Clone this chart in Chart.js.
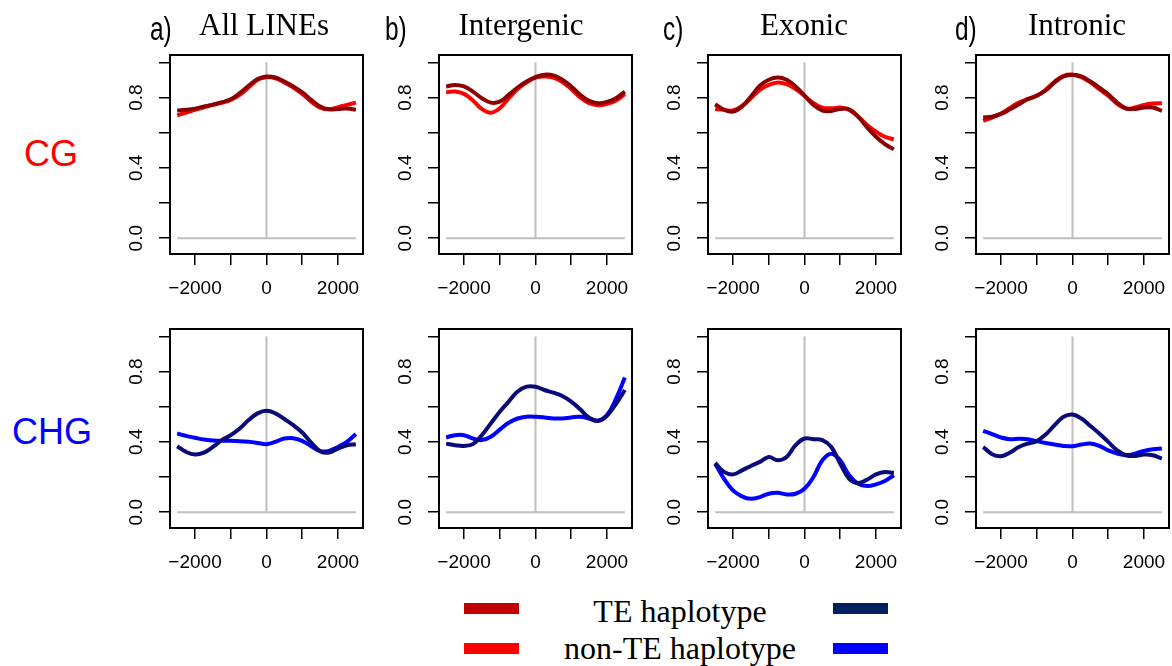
<!DOCTYPE html>
<html>
<head>
<meta charset="utf-8">
<script src="https://cdn.jsdelivr.net/npm/chart.js@4.4.1/dist/chart.umd.min.js"></script>
<style>
  html, body { margin: 0; padding: 0; background: #fff; }
  #page { position: relative; width: 1172px; height: 666px; overflow: hidden; background: #fff; }
  #page canvas { position: absolute; }
  .t { position: absolute; white-space: nowrap; line-height: 1; color: #000; }
  .serif { font-family: 'Liberation Serif', 'Times New Roman', serif; }
  .sans { font-family: 'Liberation Sans', Arial, sans-serif; }
  .bar { position: absolute; width: 55px; height: 11px; }
</style>
</head>
<body>
<div id="page"></div>
<script>
// Positions (bp relative to the element) at which methylation is sampled
const positions = [-2500, -2250, -2000, -1750, -1500, -1250, -1000, -750, -500, -250,
                   0, 250, 500, 750, 1000, 1250, 1500, 1750, 2000, 2250, 2500];

// Axis ticks
const xTicks = [-2000, -1000, 0, 1000, 2000];
const xTickLabels = ['\u22122000', '', '0', '', '2000'];
const yTicks = [0, 0.2, 0.4, 0.6, 0.8, 1.0];
const yTickLabels = ['0.0', '', '0.4', '', '0.8', ''];

// Panel titles
const panelLetters = ['a)', 'b)', 'c)', 'd)'];
const panelTitles = ['All LINEs', 'Intergenic', 'Exonic', 'Intronic'];
const contexts = ['CG', 'CHG'];
const legendLabels = ['TE haplotype', 'non-TE haplotype'];

// CG methylation
const cgTE_all = [0.726, 0.730, 0.737, 0.749, 0.760, 0.773, 0.790, 0.825, 0.867, 0.905,
                  0.920, 0.914, 0.891, 0.863, 0.830, 0.787, 0.749, 0.733, 0.735, 0.737, 0.730];
const cgNon_all = [0.699, 0.714, 0.730, 0.745, 0.758, 0.771, 0.787, 0.815, 0.857, 0.901,
                   0.916, 0.909, 0.886, 0.857, 0.821, 0.777, 0.743, 0.733, 0.745, 0.758, 0.771];
const cgTE_intergenic = [0.863, 0.872, 0.863, 0.834, 0.796, 0.771, 0.777, 0.815, 0.857, 0.891,
                         0.916, 0.930, 0.926, 0.901, 0.863, 0.815, 0.781, 0.768, 0.775, 0.796, 0.834];
const cgNon_intergenic = [0.830, 0.834, 0.821, 0.783, 0.735, 0.714, 0.739, 0.796, 0.848, 0.886,
                          0.914, 0.920, 0.914, 0.888, 0.848, 0.800, 0.768, 0.756, 0.764, 0.783, 0.819];
const cgTE_exonic = [0.762, 0.730, 0.720, 0.749, 0.806, 0.867, 0.901, 0.914, 0.901, 0.863,
                     0.811, 0.758, 0.726, 0.724, 0.735, 0.733, 0.691, 0.630, 0.577, 0.535, 0.505];
const cgNon_exonic = [0.735, 0.730, 0.726, 0.752, 0.796, 0.844, 0.872, 0.886, 0.876, 0.848,
                      0.810, 0.768, 0.743, 0.739, 0.743, 0.730, 0.691, 0.644, 0.606, 0.577, 0.562];
const cgTE_intronic = [0.686, 0.691, 0.707, 0.733, 0.762, 0.790, 0.810, 0.840, 0.886, 0.920,
                       0.930, 0.920, 0.891, 0.857, 0.819, 0.771, 0.739, 0.735, 0.743, 0.743, 0.724];
const cgNon_intronic = [0.667, 0.686, 0.709, 0.741, 0.771, 0.792, 0.810, 0.844, 0.891, 0.924,
                        0.930, 0.916, 0.886, 0.848, 0.810, 0.764, 0.737, 0.743, 0.758, 0.766, 0.768];

// CHG methylation
const chgTE_all = [0.375, 0.343, 0.328, 0.339, 0.371, 0.410, 0.438, 0.476, 0.524, 0.562,
                   0.577, 0.562, 0.530, 0.495, 0.453, 0.396, 0.347, 0.339, 0.362, 0.381, 0.387];
const chgNon_all = [0.448, 0.434, 0.423, 0.413, 0.408, 0.406, 0.406, 0.404, 0.400, 0.394,
                    0.387, 0.400, 0.419, 0.421, 0.406, 0.375, 0.347, 0.349, 0.371, 0.400, 0.444];
const chgTE_intergenic = [0.390, 0.381, 0.377, 0.387, 0.438, 0.505, 0.571, 0.629, 0.686, 0.714,
                          0.714, 0.695, 0.680, 0.661, 0.629, 0.585, 0.537, 0.520, 0.549, 0.615, 0.695];
const chgNon_intergenic = [0.425, 0.438, 0.438, 0.419, 0.410, 0.429, 0.470, 0.509, 0.533, 0.543,
                           0.543, 0.539, 0.533, 0.533, 0.539, 0.543, 0.533, 0.520, 0.552, 0.644, 0.766];
const chgTE_exonic = [0.280, 0.229, 0.215, 0.238, 0.263, 0.286, 0.314, 0.295, 0.314, 0.381,
                      0.419, 0.415, 0.410, 0.371, 0.276, 0.190, 0.166, 0.185, 0.215, 0.229, 0.223];
const chgNon_exonic = [0.276, 0.190, 0.124, 0.090, 0.076, 0.086, 0.105, 0.110, 0.101, 0.105,
                       0.133, 0.200, 0.295, 0.333, 0.295, 0.210, 0.162, 0.149, 0.158, 0.177, 0.210];
const chgTE_intronic = [0.371, 0.330, 0.318, 0.339, 0.371, 0.390, 0.404, 0.442, 0.495, 0.543,
                        0.556, 0.533, 0.490, 0.448, 0.400, 0.352, 0.324, 0.320, 0.328, 0.324, 0.305];
const chgNon_intronic = [0.463, 0.444, 0.425, 0.415, 0.417, 0.415, 0.404, 0.394, 0.385, 0.377,
                         0.375, 0.385, 0.390, 0.377, 0.352, 0.333, 0.324, 0.333, 0.349, 0.358, 0.362];

// Colours
const colCG = { te: '#8B0000', non: '#FF0000', teKey: '#C00000', nonKey: '#FF0000', label: '#FF0000' };
const colCHG = { te: '#0A0A78', non: '#0000FF', teKey: '#002060', nonKey: '#0000FF', label: '#0000FF' };

// Layout of the plot boxes
const boxLeft = [170, 439, 708, 976];
const boxTop = [55, 329];
const boxW = 193, boxH = 199;
const PADL = 60, PADT = 12, PADR = 12, PADB = 60;
const SANS = "'Liberation Sans', Arial, sans-serif";

const page = document.getElementById('page');

// Draws the frame around the plot region and the rotated y labels
const framePlugin = {
  id: 'frame',
  afterDraw(chart) {
    const { ctx, chartArea: a, scales } = chart;
    ctx.save();
    ctx.strokeStyle = '#000';
    ctx.lineWidth = 2;
    ctx.strokeRect(a.left, a.top, a.right - a.left, a.bottom - a.top);
    ctx.fillStyle = '#000';
    ctx.font = '19px ' + SANS;
    ctx.textAlign = 'center';
    ctx.textBaseline = 'middle';
    yTicks.forEach((v, i) => {
      if (!yTickLabels[i]) return;
      const py = scales.y.getPixelForValue(v);
      ctx.save();
      ctx.translate(a.left - 34, py);
      ctx.rotate(-Math.PI / 2);
      ctx.fillText(yTickLabels[i], 0, 1);
      ctx.restore();
    });
    ctx.restore();
  }
};

function series(vals) {
  return positions.map((x, i) => ({ x: x, y: vals[i] }));
}

function makePanel(col, row, te, non, colors) {
  const cv = document.createElement('canvas');
  cv.width = boxW + PADL + PADR;
  cv.height = boxH + PADT + PADB;
  cv.style.left = (boxLeft[col] - PADL) + 'px';
  cv.style.top = (boxTop[row] - PADT) + 'px';
  page.appendChild(cv);

  const gridOpts = { drawOnChartArea: false, drawTicks: true, tickLength: 11, color: '#000', lineWidth: 1.5 };
  new Chart(cv, {
    type: 'line',
    data: {
      datasets: [
        { data: series(te), borderColor: colors.te, borderWidth: 4, pointRadius: 0, tension: 0.4, order: 1 },
        { data: series(non), borderColor: colors.non, borderWidth: 4, pointRadius: 0, tension: 0.4, order: 2 },
        { data: [{ x: 0, y: 0 }, { x: 0, y: 1 }], borderColor: '#BEBEBE', borderWidth: 2, pointRadius: 0, order: 3 },
        { data: [{ x: -2500, y: 0 }, { x: 2500, y: 0 }], borderColor: '#BEBEBE', borderWidth: 2, pointRadius: 0, order: 3 }
      ]
    },
    options: {
      responsive: false,
      animation: false,
      devicePixelRatio: 1,
      layout: { padding: { left: 0, top: PADT, right: PADR, bottom: 0 } },
      plugins: { legend: { display: false }, tooltip: { enabled: false } },
      events: [],
      scales: {
        x: {
          type: 'linear', min: -2700, max: 2700,
          afterBuildTicks: s => { s.ticks = xTicks.map(v => ({ value: v })); },
          afterFit: s => { s.height = PADB; },
          grid: gridOpts,
          border: { display: false },
          ticks: {
            autoSkip: false, maxRotation: 0, minRotation: 0, padding: 12,
            color: '#000', font: { family: SANS, size: 19 },
            callback: v => { const i = xTicks.indexOf(v); return i >= 0 ? xTickLabels[i] : ''; }
          }
        },
        y: {
          type: 'linear', min: -0.09, max: 1.042,
          afterBuildTicks: s => { s.ticks = yTicks.map(v => ({ value: v })); },
          afterFit: s => { s.width = PADL; },
          grid: gridOpts,
          border: { display: false },
          ticks: { display: false }
        }
      }
    },
    plugins: [framePlugin]
  });
}

makePanel(0, 0, cgTE_all, cgNon_all, colCG);
makePanel(1, 0, cgTE_intergenic, cgNon_intergenic, colCG);
makePanel(2, 0, cgTE_exonic, cgNon_exonic, colCG);
makePanel(3, 0, cgTE_intronic, cgNon_intronic, colCG);
makePanel(0, 1, chgTE_all, chgNon_all, colCHG);
makePanel(1, 1, chgTE_intergenic, chgNon_intergenic, colCHG);
makePanel(2, 1, chgTE_exonic, chgNon_exonic, colCHG);
makePanel(3, 1, chgTE_intronic, chgNon_intronic, colCHG);

// Text placement helper: places a line of text by its baseline
function addText(txt, cls, size, x, baseline, align, color, extra) {
  const d = document.createElement('div');
  d.className = 't ' + cls;
  d.textContent = txt;
  d.style.fontSize = size + 'px';
  const asc = cls === 'serif' ? 0.8375 : 0.8465;
  d.style.top = (baseline - size * asc) + 'px';
  if (color) d.style.color = color;
  if (align === 'center') {
    d.style.left = x + 'px';
    d.style.transform = 'translateX(-50%)' + (extra || '');
  } else {
    d.style.left = x + 'px';
    if (extra) { d.style.transform = extra; d.style.transformOrigin = 'left top'; }
  }
  page.appendChild(d);
}

const letterX = [150, 385, 663, 955];
const titleX = [264, 521, 804, 1077];
panelLetters.forEach((s, i) => addText(s, 'sans', 34, letterX[i], 39.5, 'left', '#000', 'scaleX(0.72)'));
panelTitles.forEach((s, i) => addText(s, 'serif', 31, titleX[i], 35, 'center', '#000'));

addText(contexts[0], 'sans', 36, 51, 166.5, 'center', colCG.label);
addText(contexts[1], 'sans', 36, 52, 444, 'center', colCHG.label);

// Legend
function addBar(x, y, color) {
  const b = document.createElement('div');
  b.className = 'bar';
  b.style.left = x + 'px';
  b.style.top = y + 'px';
  b.style.background = color;
  page.appendChild(b);
}
addBar(464, 603, colCG.teKey);
addBar(464, 643, colCG.nonKey);
addBar(833, 603, colCHG.teKey);
addBar(833, 643, colCHG.nonKey);
addText(legendLabels[0], 'serif', 32, 680, 621.5, 'center', '#000');
addText(legendLabels[1], 'serif', 32, 680, 659, 'center', '#000');
</script>
</body>
</html>
